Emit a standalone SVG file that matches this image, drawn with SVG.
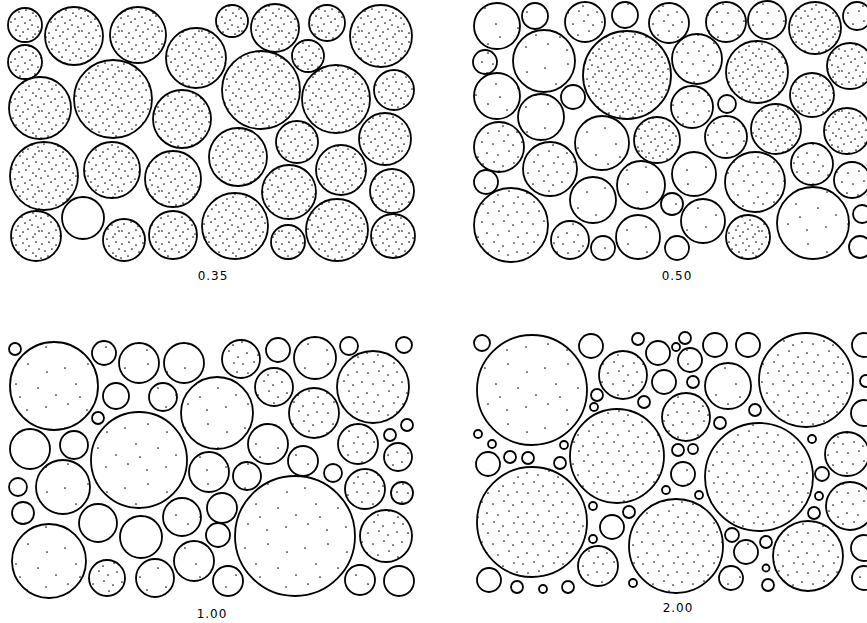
<svg xmlns="http://www.w3.org/2000/svg" width="867" height="623" viewBox="0 0 867 623">
<defs>
<pattern id="pd" patternUnits="userSpaceOnUse" width="40" height="40">
<g fill="#111">
<circle cx="2" cy="4" r="0.85"/><circle cx="9" cy="2" r="0.85"/><circle cx="16" cy="5" r="0.85"/><circle cx="23" cy="3" r="0.85"/><circle cx="29" cy="6" r="0.85"/><circle cx="36" cy="2" r="0.85"/>
<circle cx="5" cy="11" r="0.85"/><circle cx="12" cy="9" r="0.85"/><circle cx="19" cy="12" r="0.85"/><circle cx="26" cy="10" r="0.85"/><circle cx="33" cy="13" r="0.85"/><circle cx="39" cy="9" r="0.85"/>
<circle cx="1" cy="18" r="0.85"/><circle cx="8" cy="16" r="0.85"/><circle cx="15" cy="19" r="0.85"/><circle cx="22" cy="17" r="0.85"/><circle cx="30" cy="20" r="0.85"/><circle cx="36" cy="16" r="0.85"/>
<circle cx="4" cy="24" r="0.85"/><circle cx="11" cy="22" r="0.85"/><circle cx="18" cy="26" r="0.85"/><circle cx="25" cy="23" r="0.85"/><circle cx="32" cy="25" r="0.85"/><circle cx="38" cy="27" r="0.85"/>
<circle cx="2" cy="31" r="0.85"/><circle cx="9" cy="33" r="0.85"/><circle cx="16" cy="30" r="0.85"/><circle cx="23" cy="32" r="0.85"/><circle cx="28" cy="29" r="0.85"/><circle cx="35" cy="34" r="0.85"/>
<circle cx="6" cy="37" r="0.85"/><circle cx="13" cy="38" r="0.85"/><circle cx="20" cy="36" r="0.85"/><circle cx="27" cy="39" r="0.85"/><circle cx="33" cy="37" r="0.85"/><circle cx="39" cy="31" r="0.85"/>
</g>
</pattern>
<pattern id="pm" patternUnits="userSpaceOnUse" width="40" height="40">
<g fill="#111">
<circle cx="3" cy="4" r="0.85"/><circle cx="14" cy="2" r="0.85"/><circle cx="23" cy="6" r="0.85"/><circle cx="34" cy="3" r="0.85"/>
<circle cx="8" cy="13" r="0.85"/><circle cx="19" cy="11" r="0.85"/><circle cx="28" cy="15" r="0.85"/><circle cx="37" cy="12" r="0.85"/>
<circle cx="2" cy="22" r="0.85"/><circle cx="13" cy="24" r="0.85"/><circle cx="24" cy="21" r="0.85"/><circle cx="33" cy="25" r="0.85"/>
<circle cx="7" cy="33" r="0.85"/><circle cx="18" cy="35" r="0.85"/><circle cx="29" cy="31" r="0.85"/><circle cx="38" cy="37" r="0.85"/>
</g>
</pattern>
<pattern id="ps" patternUnits="userSpaceOnUse" width="60" height="60">
<g fill="#111">
<circle cx="5" cy="8" r="0.85"/><circle cx="28" cy="4" r="0.85"/><circle cx="47" cy="12" r="0.85"/><circle cx="16" cy="24" r="0.85"/><circle cx="38" cy="28" r="0.85"/>
<circle cx="56" cy="35" r="0.85"/><circle cx="8" cy="44" r="0.85"/><circle cx="27" cy="50" r="0.85"/><circle cx="46" cy="47" r="0.85"/><circle cx="20" cy="37" r="0.85"/>
</g>
</pattern>
</defs>
<style>
circle.c{stroke:#000;stroke-width:1.8}
.d{fill:url(#pd)}
.m{fill:url(#pm)}
.s{fill:url(#ps)}
.e{fill:#fff}
text{font-family:"DejaVu Sans","Liberation Sans",sans-serif;font-size:12px;fill:#000;letter-spacing:1px;text-anchor:middle}
</style>
<rect width="867" height="623" fill="#fff"/>

<g id="panel-035">
<circle class="c d" cx="25" cy="25" r="17"/>
<circle class="c d" cx="25" cy="62" r="17"/>
<circle class="c d" cx="74" cy="36" r="29"/>
<circle class="c d" cx="138" cy="35" r="28"/>
<circle class="c d" cx="196" cy="58" r="30"/>
<circle class="c d" cx="113" cy="99" r="39"/>
<circle class="c d" cx="40" cy="108" r="31"/>
<circle class="c d" cx="182" cy="119" r="29"/>
<circle class="c d" cx="44" cy="176" r="34"/>
<circle class="c d" cx="112" cy="170" r="28"/>
<circle class="c d" cx="173" cy="179" r="28"/>
<circle class="c e" cx="83" cy="218" r="21"/>
<circle class="c d" cx="36" cy="236" r="25"/>
<circle class="c d" cx="124" cy="240" r="21"/>
<circle class="c d" cx="173" cy="235" r="24"/>
<circle class="c d" cx="232" cy="21" r="16"/>
<circle class="c d" cx="275" cy="28" r="24"/>
<circle class="c d" cx="327" cy="23" r="18"/>
<circle class="c d" cx="381" cy="36" r="31"/>
<circle class="c d" cx="308" cy="56" r="16"/>
<circle class="c d" cx="261" cy="90" r="39"/>
<circle class="c d" cx="336" cy="99" r="34"/>
<circle class="c d" cx="394" cy="90" r="20"/>
<circle class="c d" cx="238" cy="157" r="29"/>
<circle class="c d" cx="297" cy="142" r="21"/>
<circle class="c d" cx="385" cy="139" r="26"/>
<circle class="c d" cx="341" cy="170" r="25"/>
<circle class="c d" cx="289" cy="192" r="27"/>
<circle class="c d" cx="392" cy="191" r="22"/>
<circle class="c d" cx="235" cy="226" r="33"/>
<circle class="c d" cx="288" cy="242" r="17"/>
<circle class="c d" cx="337" cy="230" r="31"/>
<circle class="c d" cx="393" cy="236" r="22"/>
<text x="213" y="280">0.35</text>
</g>

<g id="panel-050">
<circle class="c s" cx="497" cy="26" r="23"/>
<circle class="c s" cx="535" cy="16" r="13"/>
<circle class="c m" cx="585" cy="22" r="20"/>
<circle class="c s" cx="625" cy="15" r="13"/>
<circle class="c m" cx="669" cy="23" r="20"/>
<circle class="c m" cx="485" cy="62" r="12"/>
<circle class="c s" cx="544" cy="61" r="31"/>
<circle class="c d" cx="627" cy="75" r="44"/>
<circle class="c s" cx="497" cy="96" r="23"/>
<circle class="c e" cx="573" cy="97" r="12"/>
<circle class="c s" cx="541" cy="117" r="23"/>
<circle class="c m" cx="499" cy="147" r="25"/>
<circle class="c s" cx="602" cy="143" r="27"/>
<circle class="c d" cx="657" cy="140" r="23"/>
<circle class="c m" cx="550" cy="169" r="27"/>
<circle class="c s" cx="486" cy="182" r="12"/>
<circle class="c s" cx="593" cy="200" r="23"/>
<circle class="c s" cx="641" cy="185" r="24"/>
<circle class="c s" cx="672" cy="204" r="11"/>
<circle class="c m" cx="511" cy="225" r="37"/>
<circle class="c m" cx="570" cy="240" r="19"/>
<circle class="c s" cx="603" cy="248" r="12"/>
<circle class="c s" cx="638" cy="237" r="22"/>
<circle class="c e" cx="677" cy="248" r="12"/>
<circle class="c m" cx="726" cy="22" r="20"/>
<circle class="c m" cx="767" cy="20" r="19"/>
<circle class="c d" cx="815" cy="28" r="26"/>
<circle class="c m" cx="857" cy="16" r="14"/>
<circle class="c m" cx="697" cy="59" r="25"/>
<circle class="c d" cx="757" cy="72" r="31"/>
<circle class="c d" cx="850" cy="66" r="23"/>
<circle class="c m" cx="692" cy="107" r="21"/>
<circle class="c e" cx="727" cy="104" r="9"/>
<circle class="c d" cx="812" cy="95" r="22"/>
<circle class="c m" cx="726" cy="137" r="21"/>
<circle class="c d" cx="776" cy="129" r="25"/>
<circle class="c d" cx="847" cy="131" r="23"/>
<circle class="c s" cx="694" cy="174" r="22"/>
<circle class="c m" cx="755" cy="182" r="30"/>
<circle class="c m" cx="812" cy="164" r="21"/>
<circle class="c m" cx="852" cy="180" r="18"/>
<circle class="c s" cx="703" cy="221" r="22"/>
<circle class="c d" cx="748" cy="237" r="22"/>
<circle class="c s" cx="813" cy="223" r="36"/>
<circle class="c e" cx="862" cy="214" r="9"/>
<circle class="c e" cx="860" cy="247" r="11"/>
<text x="677" y="280">0.50</text>
</g>

<g id="panel-100">
<circle class="c e" cx="15" cy="349" r="6"/>
<circle class="c s" cx="54" cy="386" r="44"/>
<circle class="c s" cx="104" cy="353" r="12"/>
<circle class="c s" cx="139" cy="363" r="20"/>
<circle class="c s" cx="184" cy="363" r="20"/>
<circle class="c e" cx="116" cy="396" r="13"/>
<circle class="c s" cx="163" cy="397" r="14"/>
<circle class="c e" cx="98" cy="418" r="6"/>
<circle class="c s" cx="139" cy="460" r="48"/>
<circle class="c s" cx="217" cy="413" r="36"/>
<circle class="c e" cx="30" cy="449" r="20"/>
<circle class="c e" cx="74" cy="445" r="14"/>
<circle class="c s" cx="63" cy="487" r="27"/>
<circle class="c e" cx="18" cy="487" r="9"/>
<circle class="c s" cx="209" cy="472" r="20"/>
<circle class="c e" cx="23" cy="513" r="11"/>
<circle class="c e" cx="98" cy="523" r="19"/>
<circle class="c s" cx="182" cy="517" r="19"/>
<circle class="c e" cx="222" cy="508" r="15"/>
<circle class="c e" cx="141" cy="537" r="21"/>
<circle class="c s" cx="49" cy="561" r="37"/>
<circle class="c e" cx="218" cy="535" r="12"/>
<circle class="c s" cx="194" cy="561" r="20"/>
<circle class="c m" cx="107" cy="578" r="18"/>
<circle class="c s" cx="155" cy="578" r="19"/>
<circle class="c s" cx="228" cy="581" r="15"/>
<circle class="c m" cx="241" cy="359" r="19"/>
<circle class="c e" cx="278" cy="350" r="12"/>
<circle class="c s" cx="315" cy="358" r="21"/>
<circle class="c e" cx="349" cy="346" r="9"/>
<circle class="c e" cx="404" cy="345" r="8"/>
<circle class="c m" cx="373" cy="387" r="36"/>
<circle class="c m" cx="274" cy="387" r="19"/>
<circle class="c m" cx="314" cy="413" r="25"/>
<circle class="c e" cx="407" cy="425" r="6"/>
<circle class="c e" cx="390" cy="435" r="6"/>
<circle class="c s" cx="268" cy="444" r="20"/>
<circle class="c m" cx="358" cy="444" r="20"/>
<circle class="c m" cx="398" cy="457" r="14"/>
<circle class="c s" cx="303" cy="461" r="15"/>
<circle class="c s" cx="247" cy="476" r="14"/>
<circle class="c e" cx="333" cy="473" r="9"/>
<circle class="c m" cx="365" cy="489" r="20"/>
<circle class="c m" cx="402" cy="493" r="11"/>
<circle class="c s" cx="295" cy="536" r="60"/>
<circle class="c m" cx="386" cy="536" r="26"/>
<circle class="c s" cx="360" cy="580" r="15"/>
<circle class="c e" cx="399" cy="581" r="15"/>
<text x="212" y="618">1.00</text>
</g>

<g id="panel-200">
<circle class="c e" cx="482" cy="343" r="8"/>
<circle class="c s" cx="532" cy="390" r="55"/>
<circle class="c e" cx="591" cy="346" r="12"/>
<circle class="c e" cx="638" cy="339" r="6"/>
<circle class="c s" cx="658" cy="353" r="12"/>
<circle class="c m" cx="623" cy="375" r="24"/>
<circle class="c e" cx="664" cy="382" r="12"/>
<circle class="c e" cx="597" cy="395" r="6"/>
<circle class="c e" cx="594" cy="407" r="4"/>
<circle class="c e" cx="644" cy="402" r="6"/>
<circle class="c m" cx="686" cy="417" r="24"/>
<circle class="c m" cx="617" cy="456" r="47"/>
<circle class="c e" cx="478" cy="434" r="4"/>
<circle class="c e" cx="492" cy="444" r="4"/>
<circle class="c e" cx="488" cy="464" r="12"/>
<circle class="c e" cx="510" cy="457" r="6"/>
<circle class="c e" cx="528" cy="458" r="6"/>
<circle class="c e" cx="564" cy="445" r="4"/>
<circle class="c e" cx="560" cy="463" r="6"/>
<circle class="c m" cx="532" cy="522" r="55"/>
<circle class="c e" cx="593" cy="506" r="4"/>
<circle class="c e" cx="629" cy="512" r="6"/>
<circle class="c e" cx="612" cy="527" r="12"/>
<circle class="c e" cx="593" cy="539" r="4"/>
<circle class="c m" cx="676" cy="546" r="47"/>
<circle class="c m" cx="598" cy="566" r="20"/>
<circle class="c e" cx="489" cy="580" r="12"/>
<circle class="c e" cx="517" cy="587" r="6"/>
<circle class="c e" cx="543" cy="589" r="4"/>
<circle class="c e" cx="568" cy="587" r="6"/>
<circle class="c e" cx="633" cy="583" r="4"/>
<circle class="c e" cx="685" cy="338" r="6"/>
<circle class="c e" cx="676" cy="347" r="4"/>
<circle class="c s" cx="690" cy="360" r="12"/>
<circle class="c e" cx="715" cy="345" r="12"/>
<circle class="c e" cx="748" cy="345" r="12"/>
<circle class="c m" cx="806" cy="380" r="47"/>
<circle class="c e" cx="864" cy="345" r="12"/>
<circle class="c s" cx="728" cy="386" r="23"/>
<circle class="c e" cx="693" cy="382" r="6"/>
<circle class="c e" cx="755" cy="410" r="6"/>
<circle class="c e" cx="720" cy="423" r="6"/>
<circle class="c e" cx="866" cy="381" r="6"/>
<circle class="c e" cx="864" cy="413" r="13"/>
<circle class="c e" cx="678" cy="450" r="6"/>
<circle class="c e" cx="693" cy="449" r="5"/>
<circle class="c s" cx="683" cy="474" r="12"/>
<circle class="c m" cx="759" cy="477" r="54"/>
<circle class="c e" cx="812" cy="439" r="4"/>
<circle class="c m" cx="847" cy="454" r="22"/>
<circle class="c e" cx="822" cy="474" r="7"/>
<circle class="c e" cx="666" cy="490" r="4"/>
<circle class="c e" cx="699" cy="495" r="4"/>
<circle class="c e" cx="819" cy="496" r="4"/>
<circle class="c m" cx="850" cy="506" r="24"/>
<circle class="c e" cx="814" cy="513" r="6"/>
<circle class="c e" cx="732" cy="535" r="7"/>
<circle class="c s" cx="746" cy="552" r="12"/>
<circle class="c e" cx="766" cy="542" r="6"/>
<circle class="c e" cx="766" cy="568" r="3.5"/>
<circle class="c e" cx="768" cy="585" r="6"/>
<circle class="c s" cx="731" cy="578" r="12"/>
<circle class="c m" cx="808" cy="556" r="35"/>
<circle class="c s" cx="864" cy="548" r="13"/>
<circle class="c s" cx="864" cy="578" r="12"/>
<text x="678" y="612">2.00</text>
</g>
</svg>
